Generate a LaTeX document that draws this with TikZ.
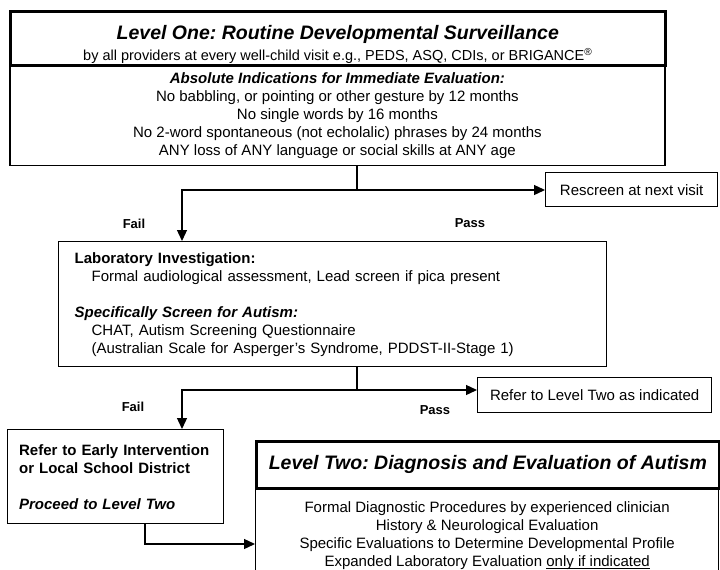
\documentclass[tikz,border=0pt]{standalone}
\usepackage{fontspec}
\setmainfont{Liberation Sans}
\usetikzlibrary{arrows.meta}
\frenchspacing

% underline sitting close to the baseline
\newcommand\lowrule[1]{\setbox0\hbox{#1}\rlap{\rule[-2.2pt]{\wd0}{0.8pt}}\box0}

\tikzset{
	box/.style={draw, line width=1.3pt, inner sep=0pt, font=\fontsize{15}{18}\selectfont},
	heavybox/.style={box, line width=2.6pt},
	conn/.style={line width=1.3pt},
	flow/.style={conn, -{Triangle[length=11pt, width=10pt]}},
	lbl/.style={font=\fontsize{13}{15}\selectfont\bfseries},
}

\begin{document}
\begin{tikzpicture}[x=1pt, y=-1pt]
		\useasboundingbox (0,0) rectangle (720,570);

		% level one
		\node[box, line width=1.8pt, anchor=north west, minimum width=655, minimum height=99, align=center] (absind) at (9,65.5)
			{{\bfseries\itshape Absolute Indications for Immediate Evaluation:}\\
			No babbling, or pointing or other gesture by 12 months\\
			No single words by 16 months\\
			No 2-word spontaneous (not echolalic) phrases by 24 months\\
			ANY loss of ANY language or social skills at ANY age};
		\node[heavybox, anchor=north west, minimum width=655, minimum height=54, align=center] (lvlone) at (9,10)
			{\rule{0pt}{26pt}{\fontsize{19.5}{21}\selectfont\bfseries\itshape Level One: Routine Developmental Surveillance}\\[3pt]
			{\fontsize{14.5}{16}\selectfont by all providers at every well-child visit e.g., PEDS, ASQ, CDIs, or BRIGANCE\textsuperscript{\textregistered}}};

		\node[box, anchor=north west, minimum width=172, minimum height=34] (rescreen) at (545,172) {Rescreen at next visit};

		% screening
		\node[box, anchor=north west, text width=516pt, inner xsep=16pt, minimum height=125, align=left] (labinv) at (58,241)
			{{\bfseries Laboratory Investigation:}\\
			\hspace*{17pt}Formal audiological assessment, Lead screen if pica present\\[18pt]
			{\bfseries\itshape Specifically Screen for Autism:}\\
			\hspace*{17pt}CHAT, Autism Screening Questionnaire\\
			\hspace*{17pt}(Australian Scale for Asperger's Syndrome, PDDST-II-Stage 1)};

		\node[box, anchor=north west, minimum width=234, minimum height=35] (refertwo) at (477,377) {Refer to Level Two as indicated};

		\node[box, anchor=north west, text width=193pt, inner xsep=11.5pt, minimum height=94, align=left] (refearly) at (7,429)
			{{\bfseries Refer to Early Intervention\\
			or Local School District}\\[18pt]
			{\bfseries\itshape Proceed to Level Two}};

		% level two
		\node[box, anchor=north west, minimum width=463, minimum height=96, align=center] (diag) at (255,487)
			{Formal Diagnostic Procedures by experienced clinician\\
			History \& Neurological Evaluation\\
			Specific Evaluations to Determine Developmental Profile\\
			Expanded Laboratory Evaluation \lowrule{only if indicated}};
		\node[heavybox, anchor=north west, minimum width=463, minimum height=47] (lvltwo) at (255,440)
			{\fontsize{19.5}{21}\selectfont\bfseries\itshape Level Two: Diagnosis and Evaluation of Autism};

		% connectors
		\coordinate (fork1) at (357,190);
		\coordinate (fail1) at (182,190);
		\draw[conn] (absind.south -| fork1) -- (fork1);
		\draw[flow] (fork1) -- (fail1) -- (fail1 |- labinv.north);
		\draw[flow] (fork1) -- (rescreen.west |- fork1);

		\coordinate (fork2) at (357,390);
		\coordinate (fail2) at (182,390);
		\draw[conn] (labinv.south -| fork2) -- (fork2);
		\draw[flow] (fork2) -- (fail2) -- (fail2 |- refearly.north);
		\draw[flow] (fork2) -- (refertwo.west |- fork2);

		\coordinate (turn3) at (145,544);
		\draw[flow] (refearly.south -| turn3) -- (turn3) -- (turn3 -| diag.west);

		\node[lbl] (failA) at (134,224) {Fail};
		\node[lbl] (passA) at (470,223) {Pass};
		\node[lbl] (failB) at (133,407) {Fail};
		\node[lbl] (passB) at (435,410) {Pass};
	\end{tikzpicture}
\end{document}
